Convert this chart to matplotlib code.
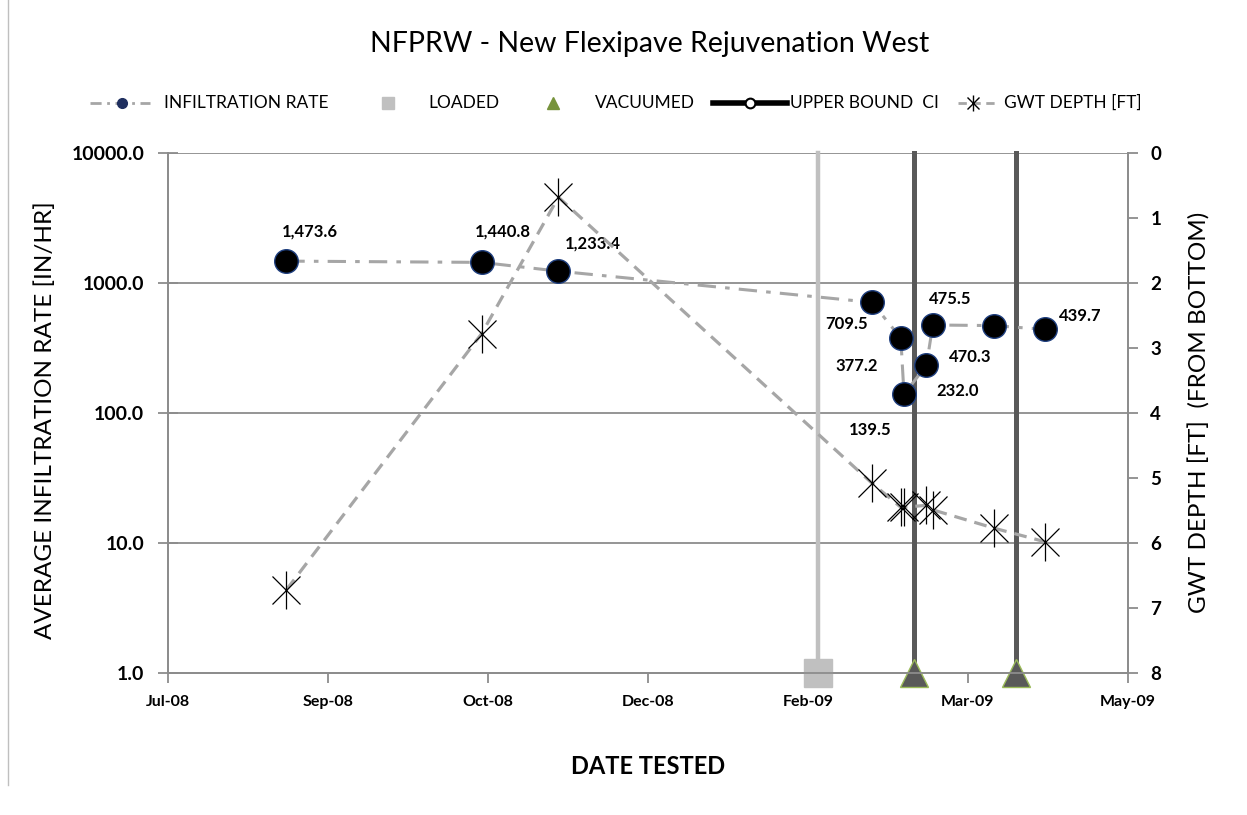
import matplotlib
matplotlib.use('Agg')
import matplotlib.pyplot as plt
import matplotlib.dates as mdates
import pandas as pd

plt.rcParams['font.family'] = ['Lato', 'DejaVu Sans']

# data
test_dates = ['2008-08-25', '2008-10-25', '2008-11-18', '2009-02-24', '2009-03-05',
              '2009-03-06', '2009-03-13', '2009-03-15', '2009-04-03', '2009-04-19']
infiltration = [1473.6, 1440.8, 1233.4, 709.5, 377.2, 139.5, 232.0, 475.5, 470.3, 439.7]
gwt_depth = [6.72, 2.78, 0.68, 5.08, 5.45, 5.45, 5.42, 5.49, 5.77, 5.98]
loaded_dates = ['2009-02-07']
vacuumed_dates = ['2009-03-09', '2009-04-10']
# label offsets in pixels (dx, dy)
label_off = [(23, 30), (21, 31), (34, 28), (-25, -22), (-44, -28),
             (-34, -36), (31, -26), (17, 26), (-23, -31), (35, 13)]

x_start = pd.Timestamp('2008-07-19')
tick_dates = [x_start + pd.Timedelta(days=50 * k) for k in range(7)]

d = pd.to_datetime(test_dates)
dl = pd.to_datetime(loaded_dates)
dv = pd.to_datetime(vacuumed_dates)

fig = plt.figure(figsize=(12.47, 8.15), dpi=100)
ax = fig.add_axes([168 / 1247, 1 - 673 / 815, 960 / 1247, 520 / 815])
ax.set_yscale('log')
ax.set_ylim(1, 10000)
ax.set_xlim(tick_dates[0], tick_dates[-1])

grid_c = '#8c8c8c'
for v in [10, 100, 1000, 10000]:
    ax.axhline(v, color=grid_c, lw=1.3, zorder=1)

# loaded / vacuumed vertical lines
for x in dl:
    ax.plot([x, x], [1, 10000], color='#c0c0c0', lw=3.2, zorder=2, clip_on=False)
for x in dv:
    ax.plot([x, x], [1, 10000], color='#595959', lw=3.6, zorder=2, clip_on=False)

ax.plot(d, infiltration, color='#a6a6a6', lw=2.2, ls=(0, (6, 3, 1.5, 3)), zorder=3)
ax.plot(d, infiltration, ls='none', marker='o', ms=17, mfc='black', mec='#1f3f7f',
        mew=1, zorder=6)

for x, y, (dx, dy) in zip(d, infiltration, label_off):
    ax.annotate(f'{y:,.1f}', (x, y), xytext=(dx, dy), textcoords='offset pixels',
                ha='center', va='center', fontsize=12, fontweight='bold', zorder=7)

ax.plot(dl, [1] * len(dl), ls='none', marker='s', ms=20, mfc='#c0c0c0', mec='#c0c0c0',
        zorder=8, clip_on=False)
ax.plot(dv, [1] * len(dv), ls='none', marker='^', ms=20, mfc='#595959', mec='#9bbb59',
        mew=1, zorder=8, clip_on=False)

ax2 = ax.twinx()
ax2.set_ylim(8, 0)
ax2.plot(d, gwt_depth, color='#a6a6a6', lw=2.3, ls=(0, (4, 2.5)), zorder=3)
ax2.plot(d, gwt_depth, ls='none', marker='x', ms=20, mec='black', mew=0.9, zorder=5)
ax2.plot(d, gwt_depth, ls='none', marker='|', ms=28, mec='black', mew=0.9, zorder=5)
ax2.set_yticks(range(9))

for a in (ax, ax2):
    for s in a.spines.values():
        s.set_color(grid_c)
        s.set_linewidth(1.3)
    a.spines['top'].set_visible(False)

ax.set_xticks(tick_dates)
ax.xaxis.set_major_formatter(mdates.DateFormatter('%b-%y'))
ax.set_yticks([1, 10, 100, 1000, 10000])
ax.set_yticklabels([f'{v:.1f}' for v in [1, 10, 100, 1000, 10000]])
ax.yaxis.set_minor_locator(matplotlib.ticker.NullLocator())
ax.tick_params(axis='y', direction='inout', length=14, color=grid_c, width=1.3,
               labelsize=14, pad=10)
ax.tick_params(axis='x', direction='out', length=7, color=grid_c, width=1.3,
               labelsize=11.5, pad=9)
ax2.tick_params(axis='y', direction='out', length=7, color=grid_c, width=1.3,
                labelsize=13.5, pad=9)
for lab in ax.get_xticklabels() + ax.get_yticklabels() + ax2.get_yticklabels():
    lab.set_fontweight('bold')

fig.text(45 / 1247, 1 - 420 / 815, 'AVERAGE INFILTRATION RATE [IN/HR]', rotation=90,
         ha='center', va='center', fontsize=17.5)
fig.text(1200 / 1247, 1 - 412 / 815, 'GWT DEPTH [FT]  (FROM BOTTOM)', rotation=90,
         ha='center', va='center', fontsize=17.5)
fig.text(648 / 1247, 1 - 767 / 815, 'DATE TESTED', ha='center', va='center',
         fontsize=17, fontweight='bold')
fig.text(650 / 1247, 1 - 44 / 815, 'NFPRW - New Flexipave Rejuvenation West',
         ha='center', va='center', fontsize=20.5)

# legend drawn in a pixel overlay
lg = fig.add_axes([0, 0, 1, 1], zorder=-1)
lg.set_xlim(0, 1247)
lg.set_ylim(815, 0)
lg.axis('off')
ly = 103
lg.plot([90, 150], [ly, ly], color='#a6a6a6', lw=2, ls=(0, (4, 2, 1, 2)))
lg.plot([122], [ly], marker='o', ms=7, mfc='#1f2f5f', mec='#1f2f5f')
lg.plot([388], [ly], marker='s', ms=8, mfc='#c0c0c0', mec='#c0c0c0')
lg.plot([553], [ly], marker='^', ms=8, mfc='#77933c', mec='#77933c')
lg.plot([713, 787], [ly, ly], color='black', lw=4)
lg.plot([750], [ly], marker='o', ms=7, mfc='white', mec='black', mew=1.5)
lg.plot([958, 998], [ly, ly], color='#a6a6a6', lw=2, ls=(0, (3, 2)))
lg.plot([973], [ly], marker='x', ms=8, mec='black', mew=1)
lg.plot([973], [ly], marker='|', ms=11, mec='black', mew=1)
leg_labels = ['INFILTRATION RATE', 'LOADED', 'VACUUMED', 'UPPER BOUND  CI', 'GWT DEPTH [FT]']
leg_x = [164, 428, 595, 790, 1004]
for x, t in zip(leg_x, leg_labels):
    lg.text(x, ly, t, ha='left', va='center', fontsize=12.5)

# outer chart border (only left edge visible)
lg.plot([8, 8], [0, 785], color='#bfbfbf', lw=1)

fig.savefig('out.png', dpi=100)
